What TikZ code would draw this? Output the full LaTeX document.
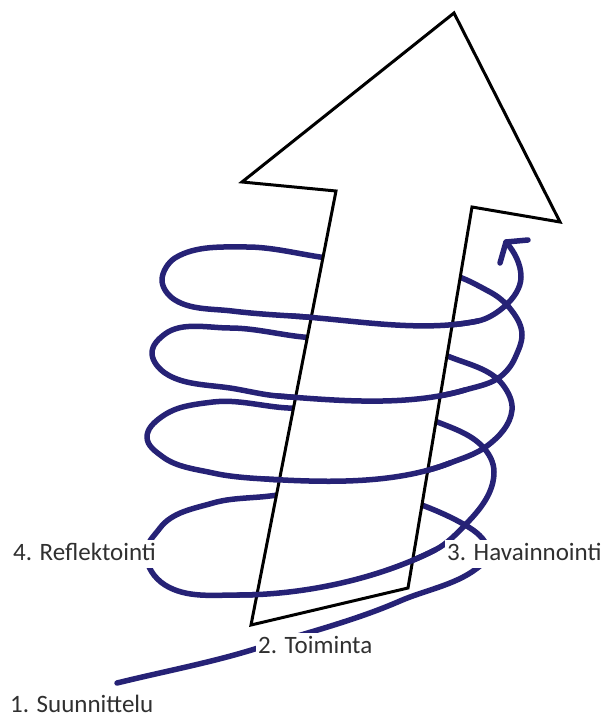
\documentclass[tikz,border=0pt]{standalone}
\usepackage{fontspec}
\setmainfont{Carlito}
\definecolor{ink}{RGB}{38,34,118}
\definecolor{lbltext}{RGB}{48,48,48}
\tikzset{
  spiral/.style={draw=ink, line width=5.5bp, line cap=round, line join=round},
  bigarrow/.style={draw=black, fill=white, line width=3bp, line join=miter},
  lbl/.style={fill=white, text=lbltext, font=\fontsize{25bp}{30bp}\selectfont,
    inner sep=2bp, text height=18bp, text depth=6bp, anchor=base west}
}
\begin{document}
\begin{tikzpicture}[x=1bp,y=-1bp]
\fill[white] (0,0) rectangle (602,718);
\useasboundingbox (0,0) rectangle (602,718);

% whole spiral (back parts get hidden by the arrow)
\draw[spiral] (117,683)
  .. controls +(46.6,-11.5) and +(-45.6,14.4) .. (258,648)
  .. controls +(47.5,-15) and +(-46,20) .. (400,601)
  .. controls +(24.8,-10.8) and +(-21.6,16.2) .. (476,569)
  .. controls +(6.4,-4.8) and +(0,8) .. (488,552)
  .. controls +(0,-10) and +(8.5,5.3) .. (470,528)
  .. controls +(-13.6,-8.5) and +(14.9,5.9) .. (427,507)
  .. controls +(-46.5,-18.5) and +(49.5,-6) .. (270,496)
  .. controls +(-18.8,2.3) and +(18.2,-5.3) .. (213,503)
  .. controls +(-19.2,5.6) and +(12,-16) .. (160,528)
  .. controls +(-6,8) and +(0,-10) .. (146,553)
  .. controls +(0,13) and +(-11,-6.9) .. (165,585)
  .. controls +(21.3,13.3) and +(-25,0) .. (238,595)
  .. controls +(65,0) and +(-57.9,29.3) .. (435,550)
  .. controls +(12.5,-6.3) and +(-9.8,10.1) .. (467,523)
  .. controls +(14,-14.4) and +(0,20) .. (494,472)
  .. controls +(0,-10) and +(7,7.2) .. (482,446)
  .. controls +(-11.2,-11.5) and +(14.9,5.9) .. (440,423)
  .. controls +(-46.5,-18.5) and +(50,2.5) .. (288,408)
  .. controls +(-25,-1.3) and +(25,-3) .. (213,402)
  .. controls +(-25,3) and +(14.4,-10.8) .. (160,418)
  .. controls +(-6.4,4.8) and +(0,-8) .. (147,437)
  .. controls +(0,9) and +(-7.2,-5.4) .. (163,457)
  .. controls +(13.6,10.2) and +(-16.5,-3.7) .. (213,473)
  .. controls +(16.5,3.7) and +(-17,-1) .. (265,479)
  .. controls +(60,3.6) and +(-55.8,21.6) .. (450,463)
  .. controls +(13,-5) and +(-11.2,8.4) .. (487,446)
  .. controls +(12,-9) and +(-1.5,15) .. (512,410)
  .. controls +(0.9,-9) and +(5.4,7.2) .. (503,385)
  .. controls +(-12,-16) and +(18.6,7.4) .. (450,357)
  .. controls +(-44.6,-17.8) and +(47.5,4.8) .. (303,337)
  .. controls +(-23.8,-2.4) and +(24,0) .. (230,328)
  .. controls +(-21,0) and +(16.8,-12.6) .. (165,334)
  .. controls +(-6.4,4.8) and +(0,-8) .. (152,353)
  .. controls +(0,8) and +(-6.4,-4.4) .. (165,373)
  .. controls +(17.6,12.1) and +(-21.8,-3.3) .. (230,388)
  .. controls +(15.8,2.4) and +(-16,-1.3) .. (278,396)
  .. controls +(60,4.8) and +(-57.6,16.8) .. (465,390)
  .. controls +(10.6,-3.1) and +(-9.4,5.8) .. (497,379)
  .. controls +(7.7,-4.8) and +(-3.6,8.3) .. (515,358)
  .. controls +(3.2,-7.4) and +(0,8) .. (522,335)
  .. controls +(0,-9) and +(5.4,7.2) .. (512,311)
  .. controls +(-6,-8) and +(8.8,4.7) .. (490,292)
  .. controls +(-8.8,-4.7) and +(9.3,3.7) .. (462,278)
  .. controls +(-43.7,-17.4) and +(46.5,7) .. (320,257)
  .. controls +(-23.8,-3.6) and +(24,0) .. (247,247)
  .. controls +(-24,0) and +(20.4,-12.7) .. (175,258)
  .. controls +(-6.8,4.2) and +(0,-8) .. (162,280)
  .. controls +(0,8) and +(-6.8,-4.2) .. (175,300)
  .. controls +(16.2,10.1) and +(-18.8,-2.3) .. (232,311)
  .. controls +(19.8,2.4) and +(-20,-1.2) .. (292,316)
  .. controls +(60,3.6) and +(-58.8,12) .. (478,321)
  .. controls +(9.8,-2) and +(-7.5,6.6) .. (505,306)
  .. controls +(8.3,-7.3) and +(0,11) .. (521,277)
  .. controls +(0,-13) and +(8.5,9.9) .. (506,242);

% the big arrow
\draw[bigarrow] (454,13) -- (560,222) -- (472,207) -- (408,588)
  -- (251,625) -- (336,191) -- (242,182) -- cycle;

% front arcs crossing over the arrow
\draw[spiral] (238,595) .. controls +(65,0) and +(-57.9,29.3) .. (435,550);
\draw[spiral] (265,479) .. controls +(60,3.6) and +(-55.8,21.6) .. (450,463);
\draw[spiral] (278,396) .. controls +(60,4.8) and +(-57.6,16.8) .. (465,390);
\draw[spiral] (292,316) .. controls +(60,3.6) and +(-58.8,12) .. (478,321);

% arrowhead of the spiral
\draw[spiral] (500,263) -- (506,242) -- (528,240);

% labels
\node[lbl] (refl) at (11,560) {4. Reflektointi};
\node[lbl] (hav) at (445,560) {3. Havainnointi};
\node[lbl] (toim) at (256,653) {2. Toiminta};
\node[lbl] (suun) at (8,712) {1. Suunnittelu};
\end{tikzpicture}
\end{document}
